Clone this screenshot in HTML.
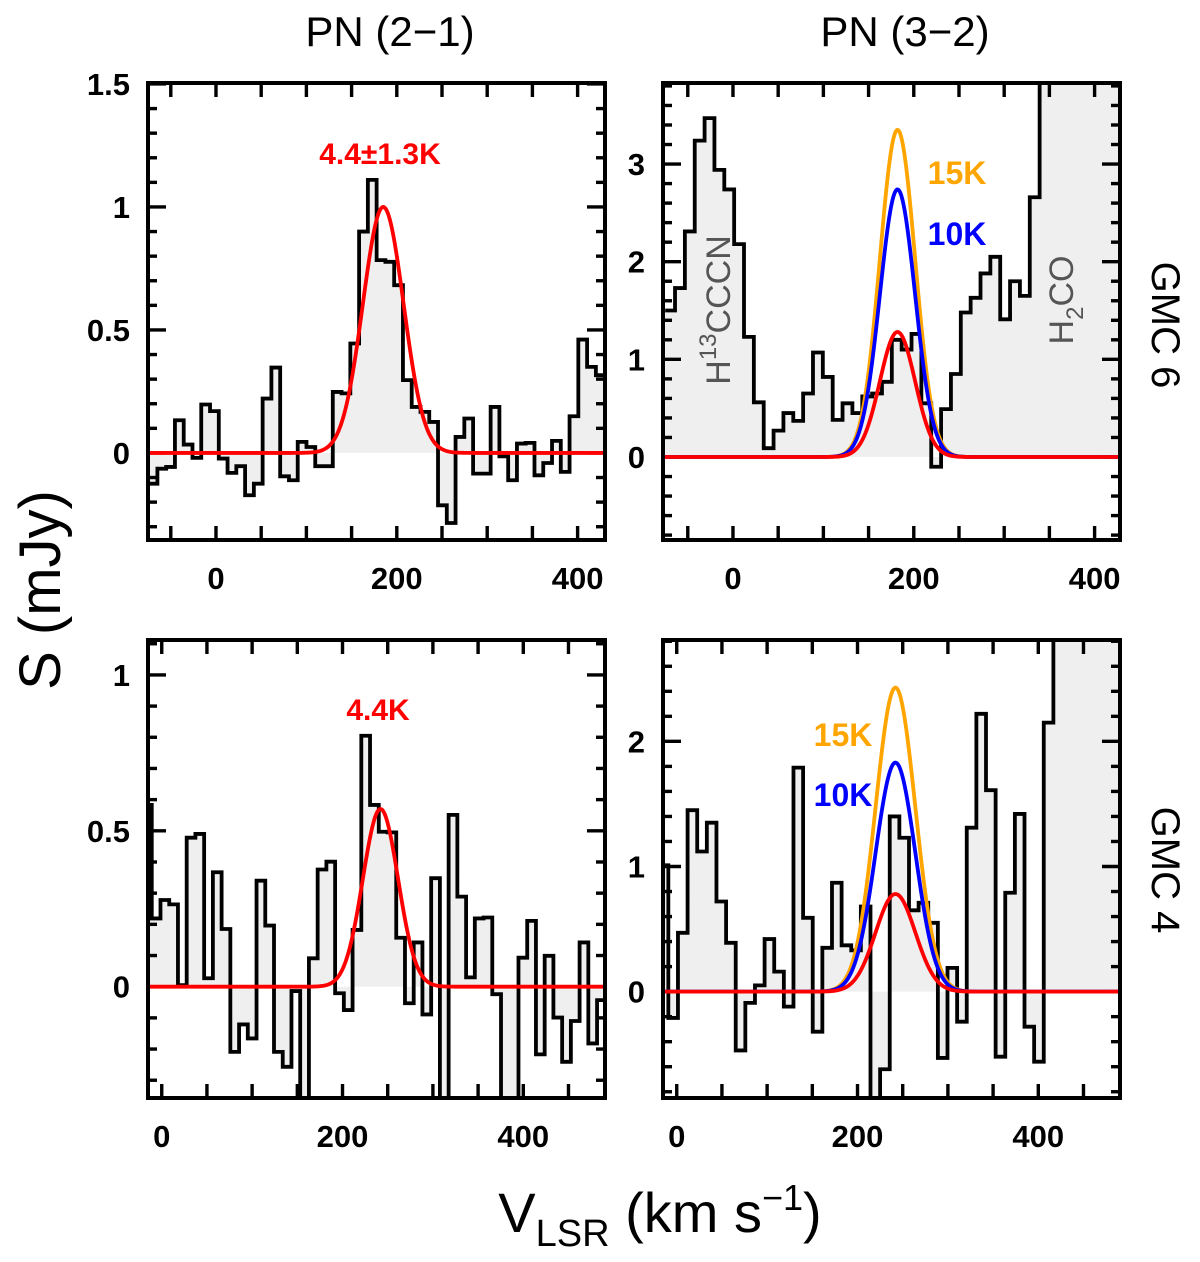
<!DOCTYPE html>
<html><head><meta charset="utf-8"><style>
html,body{margin:0;padding:0;background:#fff;}
svg{display:block;font-family:"Liberation Sans",Arial,sans-serif;}
</style></head><body>
<svg id="chart" width="1200" height="1262" viewBox="0 0 1200 1262" xmlns="http://www.w3.org/2000/svg">
<g id="panels"></g>
<text x="390" y="46" font-size="42" text-anchor="middle">PN (2−1)</text>
<text x="905" y="46" font-size="42" text-anchor="middle">PN (3−2)</text>
<text transform="translate(60,590) rotate(-90)" font-size="58" text-anchor="middle">S (mJy)</text>
<text x="660" y="1232" font-size="56" text-anchor="middle">V<tspan font-size="38" dy="14">LSR</tspan><tspan dy="-14"> (km s</tspan><tspan font-size="36" dy="-22">−1</tspan><tspan dy="22">)</tspan></text>
<text transform="translate(1152,325) rotate(90)" font-size="40" text-anchor="middle">GMC 6</text>
<text transform="translate(1152,870) rotate(90)" font-size="40" text-anchor="middle">GMC 4</text>
</svg>
<script>
// ---- data (velocity km/s, flux mJy) ----
const tlStart = -74.5, tlWidth = 9.7;
const tlValues = [-0.125,-0.064,-0.057,0.133,0.034,-0.020,0.197,0.170,-0.023,-0.081,-0.054,-0.172,-0.125,0.221,0.347,-0.095,-0.111,0.045,0.024,-0.054,-0.054,0.248,0.242,0.445,0.90,1.11,0.784,0.777,0.682,0.296,0.187,0.167,0.126,-0.213,-0.285,0.065,0.140,-0.084,-0.084,0.187,-0.014,-0.111,0.038,0.041,-0.091,-0.041,0.049,-0.077,0.149,0.461,0.350,0.316];
const tlGauss = [[185, 1.0, 22.5]];
const trStart = -75, trWidth = 10.9;
const trValues = [1.50,1.73,2.31,3.24,3.47,2.94,2.74,2.18,1.23,0.56,0.09,0.27,0.45,0.37,0.65,1.07,0.82,0.38,0.55,0.45,0.62,0.65,0.77,1.20,1.10,1.26,0.55,-0.10,0.49,0.85,1.48,1.63,1.88,2.05,1.41,1.80,1.65,2.66,4.5,4.5,4.5,4.5,4.5,4.5,4.5,4.5];
const trGauss = [[182, 3.35, 19.5],[182, 2.74, 19.5],[182, 1.28, 19.5]];
const blStart = -20.7, blWidth = 9.66;
const blValues = [0.583,0.219,0.278,0.264,0.005,0.478,0.490,0.027,0.367,0.185,-0.209,-0.121,-0.166,0.340,0.196,-0.209,-0.257,-0.014,-0.5,0.091,0.376,0.401,-0.021,-0.075,0.182,0.805,0.583,0.497,0.495,0.157,-0.053,0.142,-0.089,0.348,-0.5,0.551,0.289,0.030,0.219,0.222,-0.024,-0.5,-0.5,0.093,0.211,-0.217,0.099,-0.099,-0.241,-0.110,0.142,-0.182,-0.043];
const blGauss = [[242, 0.57, 19.5]];
const brStart = -19.95, brWidth = 10.65;
const brValues = [1.01,-0.21,0.47,1.45,1.12,1.35,0.72,0.39,-0.47,-0.09,0.05,0.42,0.16,-0.12,1.79,0.59,-0.32,0.35,0.87,0.37,0.33,0.68,-1.0,-0.62,1.40,1.23,0.65,0.71,0.55,-0.53,0.19,-0.24,1.31,2.22,1.61,-0.52,0.79,1.42,-0.28,-0.56,2.15,3.5,3.5,3.5,3.5,3.5,3.5,3.5];
const brGauss = [[242, 2.43, 22],[242, 1.83, 22],[242, 0.78, 22]];
const xTickLabels = [0, 200, 400];
const tlYLabels = [0, 0.5, 1, 1.5];
const trYLabels = [0, 1, 2, 3];
const blYLabels = [0, 0.5, 1];
const brYLabels = [0, 1, 2];
const gaussColors = ['#ffa500', '#0000ff', '#ff0000'];

const NS = 'http://www.w3.org/2000/svg';
const root = document.getElementById('panels');
function mk(tag, attrs, parent){ const e=document.createElementNS(NS,tag); for(const k in attrs) e.setAttribute(k,attrs[k]); (parent||root).appendChild(e); return e; }

function panel(id, px0, px1, py0, py1, xd, yd, start, width, values, gauss, yLabels, yMinor, yMajor){
  const xs = v => px0 + (v - xd[0]) / (xd[1]-xd[0]) * (px1-px0);
  const ys = s => py1 - (s - yd[0]) / (yd[1]-yd[0]) * (py1-py0);
  const g = mk('g', {});
  
  
  const cp = mk('clipPath', {id: id+'-clip'}, g);
  mk('rect', {x:px0, y:py0, width:px1-px0, height:py1-py0}, cp);
  // fill first
  const fillLayer = mk('g', {'clip-path':'url(#'+id+'-clip)'}, g);
  let f = 'M' + xs(start) + ' ' + ys(0);
  let s = '';
  values.forEach((val,i)=>{
    const a = xs(start + i*width), b = xs(start + (i+1)*width);
    f += ' L' + a + ' ' + ys(val) + ' L' + b + ' ' + ys(val);
    s += (i===0 ? 'M' : ' L') + a + ' ' + ys(val) + ' L' + b + ' ' + ys(val);
  });
  f += ' L' + xs(start + values.length*width) + ' ' + ys(0) + ' Z';
  const fill = mk('path', {d:f, fill:'#efefef', stroke:'none'}, fillLayer);
  
  
  // ticks over fill
  const tk = mk('g', {stroke:'#000', 'stroke-width':3.4}, g);
  for (let v = Math.ceil(xd[0]/50)*50; v <= xd[1]; v += 50) {
    const x = xs(v);
    mk('line', {x1:x, y1:py1, x2:x, y2:py1-14}, tk);
    mk('line', {x1:x, y1:py0, x2:x, y2:py0+14}, tk);
  }
  for (let i = Math.ceil(yd[0]/yMinor - 1e-6); i*yMinor <= yd[1] + 1e-6; i++) {
    const val = i*yMinor, y = ys(val);
    const major = Math.abs(val/yMajor - Math.round(val/yMajor)) < 1e-6;
    const L = major ? 18 : 9;
    mk('line', {x1:px0, y1:y, x2:px0+L, y2:y}, tk);
    mk('line', {x1:px1, y1:y, x2:px1-L, y2:y}, tk);
  }
  // lines on top
  const inner = mk('g', {'clip-path':'url(#'+id+'-clip)'}, g);
  const hist = mk('path', {d:s, fill:'none', stroke:'#000', 'stroke-width':3.8, 'stroke-linejoin':'miter'}, inner);
  
  
  const off = gaussColors.length - gauss.length;
  gauss.forEach((gp, k)=>{
    let d = '';
    for (let v = xd[0] - 30; v <= xd[1] + 30; v += 1) {
      const val = gp[1] * Math.exp(-0.5 * Math.pow((v - gp[0]) / gp[2], 2));
      d += (d ? ' L' : 'M') + xs(v).toFixed(2) + ' ' + ys(val).toFixed(2);
    }
    const ln = mk('path', {d:d, fill:'none', stroke:gaussColors[off+k], 'stroke-width':3.8}, inner);
    
    
  });
  const fr = mk('rect', {x:px0, y:py0, width:px1-px0, height:py1-py0, fill:'none', stroke:'#000', 'stroke-width':4}, g);
  
  
  xTickLabels.forEach(v=>{
    const t = mk('text', {x:xs(v), y:py1+49, 'font-size':31, 'font-weight':'bold', 'text-anchor':'middle'}, g);
    t.textContent = v;
    
    
  });
  yLabels.forEach(v=>{
    const t = mk('text', {x:px0-18, y:ys(v)+11, 'font-size':31, 'font-weight':'bold', 'text-anchor':'end'}, g);
    t.textContent = v;
    
    
  });
}
panel('gmc6-pn21', 148, 605, 83, 540, [-75.2, 430.3], [-0.354, 1.504], tlStart, tlWidth, tlValues, tlGauss, tlYLabels, 0.1, 0.5);
panel('gmc6-pn32', 663, 1120, 83, 540, [-77.4, 428.1], [-0.85, 3.83], trStart, trWidth, trValues, trGauss, trYLabels, 0.2, 1);
panel('gmc4-pn21', 148, 605, 640, 1098, [-15.2, 490.4], [-0.357, 1.112], blStart, blWidth, blValues, blGauss, blYLabels, 0.1, 0.5);
panel('gmc4-pn32', 663, 1120, 640, 1098, [-15.2, 490.4], [-0.85, 2.81], brStart, brWidth, brValues, brGauss, brYLabels, 0.2, 1);

function label(txt, x, y, color, name, size){
  const t = mk('text', {x:x, y:y, 'font-size':size||32, 'font-weight':'bold', fill:color, 'text-anchor':'middle'});
  t.textContent = txt;
  
  
}
label('4.4±1.3K', 380, 164, '#ff0000', 'fit-label-gmc6-pn21', 30);
label('15K', 957, 184, '#ffa500', 'label-15k-gmc6');
label('10K', 957, 245, '#0000ff', 'label-10k-gmc6');
label('4.4K', 378, 720, '#ff0000', 'fit-label-gmc4-pn21', 30);
label('15K', 843, 746, '#ffa500', 'label-15k-gmc4');
label('10K', 843, 806, '#0000ff', 'label-10k-gmc4');
const h13 = mk('text', {transform:'translate(730,310) rotate(-90)', 'font-size':34, fill:'#555', 'text-anchor':'middle'});
h13.innerHTML = 'H<tspan font-size="24" dy="-14">13</tspan><tspan dy="14">CCCN</tspan>';


const h2co = mk('text', {transform:'translate(1073,300) rotate(-90)', 'font-size':34, fill:'#555', 'text-anchor':'middle'});
h2co.innerHTML = 'H<tspan font-size="24" dy="10">2</tspan><tspan dy="-10">CO</tspan>';


</script>
</body></html>
